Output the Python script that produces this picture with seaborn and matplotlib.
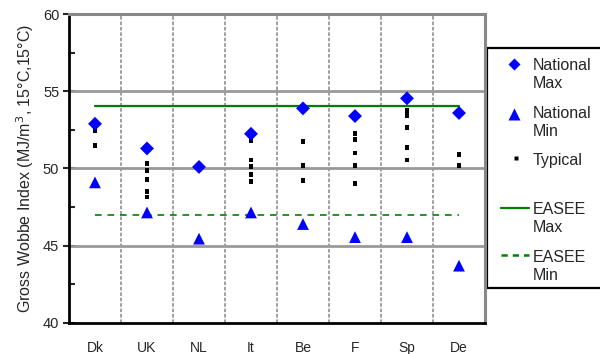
import numpy as np
import pandas as pd
import matplotlib
matplotlib.use("Agg")
import matplotlib.pyplot as plt
import seaborn as sns
from matplotlib.lines import Line2D
from matplotlib.patches import Rectangle

# Data
countries = ['Dk', 'UK', 'NL', 'It', 'Be', 'F', 'Sp', 'De']
national_max = [52.9, 51.3, 50.1, 52.25, 53.9, 53.4, 54.55, 53.6]
national_min = [49.1, 47.15, 45.45, 47.15, 46.4, 45.55, 45.55, 43.7]
typical = {
    'Dk': [52.45, 51.5],
    'UK': [50.35, 49.85, 49.3, 48.5, 48.15],
    'NL': [],
    'It': [51.8, 50.55, 50.15, 49.6, 49.15],
    'Be': [51.75, 50.2, 49.2],
    'F': [52.25, 51.9, 51.0, 50.2, 49.05],
    'Sp': [53.75, 53.45, 52.65, 51.35, 50.55],
    'De': [50.9, 50.2],
}
easee_max = [54.05, 54.05, 54.05, 54.05, 54.05, 54.05, 54.05, 54.05]
easee_min = [47.0, 47.0, 47.0, 47.0, 47.0, 47.0, 47.0, 47.0]

df_nat = pd.DataFrame({'country': countries, 'max': national_max, 'min': national_min,
                       'emax': easee_max, 'emin': easee_min})
df_typ = pd.DataFrame([(c, v) for c in countries for v in typical[c]],
                      columns=['country', 'value'])

sns.set_style('white')
plt.rcParams['font.family'] = ['Liberation Sans', 'DejaVu Sans']

fig = plt.figure(figsize=(6, 3.54), dpi=100)
ax = fig.add_axes([69 / 600, 1 - 322.7 / 354, (485 - 69) / 600, (322.7 - 14.3) / 354])

blue = '#0000FF'
green = '#008000'

# EASEE lines
sns.lineplot(data=df_nat, x='country', y='emax', ax=ax, color=green, lw=1.6, sort=False, zorder=3)
sns.lineplot(data=df_nat, x='country', y='emin', ax=ax, color=green, lw=1.2, sort=False,
             zorder=3, linestyle=(0, (4, 3.5)))

# markers
sns.scatterplot(data=df_typ, x='country', y='value', ax=ax, marker='s', s=12, color='black',
                edgecolor='none', zorder=4)
sns.scatterplot(data=df_nat, x='country', y='max', ax=ax, marker='D', s=50, color=blue,
                edgecolor='none', zorder=5)
sns.scatterplot(data=df_nat, x='country', y='min', ax=ax, marker='^', s=72, color=blue,
                edgecolor='none', zorder=5)

ax.set_xlim(-0.5, 7.5)
ax.set_ylim(40, 60)

# x axis: ticks at category boundaries, labels at centres
ax.set_xticks(np.arange(-0.5, 8, 1))
ax.set_xticklabels([])
ax.set_xticks(np.arange(0, 8), minor=True)
ax.set_xticklabels(countries, minor=True, fontsize=10)
ax.tick_params(axis='x', which='major', direction='out', length=4, width=1.5, color='black')
ax.tick_params(axis='x', which='minor', length=0, pad=13)

# y axis
ax.set_yticks(np.arange(40, 61, 5))
ax.set_yticks(np.arange(40, 61, 2.5), minor=True)
ax.tick_params(axis='y', which='major', direction='inout', length=8, width=1.5,
               labelsize=10.5, pad=3, left=True)
ax.tick_params(axis='y', which='minor', direction='in', length=4, width=1.5, left=True)
ax.set_ylabel('Gross Wobbe Index (MJ/m$^3$, 15°C,15°C)', fontsize=11.5, labelpad=5)
ax.set_xlabel('')

# grid
for v in [45, 50, 55]:
    ax.axhline(v, color='#999999', lw=2, zorder=1)
for b in np.arange(0.5, 7.5, 1):
    ax.axvline(b, color='#999999', lw=1.3, linestyle=(0, (2, 1)), zorder=1)

for s in ['left', 'bottom']:
    ax.spines[s].set_color('black')
    ax.spines[s].set_linewidth(2)
for s in ['top', 'right']:
    ax.spines[s].set_color('#888888')
    ax.spines[s].set_linewidth(2.2)
ax.set_zorder(2)

# legend box drawn by hand to match the layout
def fx(px):
    return px / 600

def fy(py):
    return 1 - py / 354

fig.patches.append(Rectangle((fx(487), fy(288)), fx(660) - fx(487), fy(48) - fy(288),
                             transform=fig.transFigure, fill=False, ec='black', lw=1.6,
                             clip_on=False))
fig.lines.append(Line2D([fx(514)], [fy(64)], marker='D', ms=6.5, color=blue, mec='none',
                        ls='none', transform=fig.transFigure))
fig.lines.append(Line2D([fx(514)], [fy(114)], marker='^', ms=8, color=blue, mec='none',
                        ls='none', transform=fig.transFigure))
fig.lines.append(Line2D([fx(515.5)], [fy(158)], marker='s', ms=2.2, color='black', mec='none',
                        ls='none', transform=fig.transFigure))
fig.lines.append(Line2D([fx(501), fx(529)], [fy(208), fy(208)], color=green, lw=1.6,
                        transform=fig.transFigure))
fig.lines.append(Line2D([fx(501), fx(529)], [fy(255), fy(255)], color=green, lw=1.8,
                        linestyle=(0, (2.5, 2)), transform=fig.transFigure))
for txt, py in [('National', 65), ('Max', 83), ('National', 113), ('Min', 131),
                ('Typical', 161), ('EASEE', 210), ('Max', 228), ('EASEE', 258), ('Min', 275)]:
    fig.text(fx(533), fy(py), txt, fontsize=11.5, va='center', ha='left')

fig.savefig('out.png', dpi=100)
